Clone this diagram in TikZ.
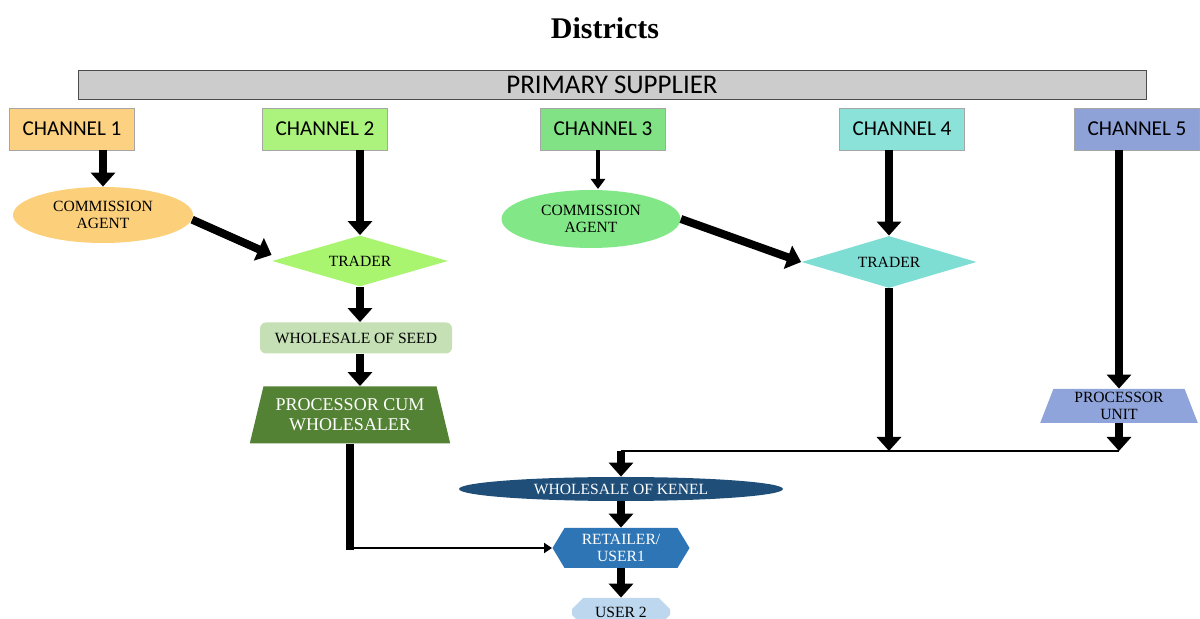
\documentclass[tikz,border=0pt]{standalone}
\usepackage{fontspec}
\setmainfont{Liberation Serif}
\newfontfamily\chfont{Carlito}
\usetikzlibrary{arrows.meta,shapes.geometric,shapes.misc,shapes.symbols}
\definecolor{barc}{RGB}{204,204,204}
\definecolor{ch1c}{RGB}{252,210,130}
\definecolor{ch2c}{RGB}{172,243,125}
\definecolor{ch3c}{RGB}{128,226,132}
\definecolor{ch4c}{RGB}{138,226,216}
\definecolor{ch5c}{RGB}{142,162,216}
\definecolor{ca1c}{RGB}{252,208,122}
\definecolor{ca3c}{RGB}{130,232,135}
\definecolor{tr2c}{RGB}{170,245,112}
\definecolor{tr4c}{RGB}{126,222,212}
\definecolor{wosc}{RGB}{197,224,180}
\definecolor{pcwc}{RGB}{84,130,53}
\definecolor{puc}{RGB}{143,164,218}
\definecolor{wokc}{RGB}{31,78,121}
\definecolor{retc}{RGB}{46,117,182}
\definecolor{usrc}{RGB}{189,215,238}
\begin{document}
\begin{tikzpicture}[x=0.5pt, y=-0.5pt,
	lbl/.style={font=\fontsize{7.8}{8.6}\selectfont, align=center, inner sep=0pt},
	chbox/.style={draw=gray!70, font=\chfont\fontsize{10.6}{13}\selectfont, minimum width=62.5pt, minimum height=21pt, inner sep=0pt},
	fatarrow/.style={line width=4pt, -{Triangle[width=12pt,length=7pt]}},
	midarrow/.style={line width=2pt, -{Triangle[width=7pt,length=5pt]}},
	thinarrow/.style={line width=1pt, -{Triangle[width=5pt,length=4pt]}}]
	\useasboundingbox (0,0) rectangle (1200,619);
	%title
	\node[font=\bfseries\fontsize{15}{18}\selectfont] (title) at (605,28) {Districts};
	\node[draw=black!70, fill=barc, minimum width=534pt, minimum height=14.5pt, inner sep=0pt,
		font=\chfont\fontsize{13.5}{15}\selectfont] (sup) at (612,85) {PRIMARY SUPPLIER};
	%channels
	\node[chbox, fill=ch1c] (ch1) at (72,129) {CHANNEL 1};
	\node[chbox, fill=ch2c] (ch2) at (325,129) {CHANNEL 2};
	\node[chbox, fill=ch3c] (ch3) at (603,129) {CHANNEL 3};
	\node[chbox, fill=ch4c] (ch4) at (902,129) {CHANNEL 4};
	\node[chbox, fill=ch5c] (ch5) at (1137,129) {CHANNEL 5};
	%middle
	\node[lbl, ellipse, fill=ca1c, minimum width=90pt, minimum height=28pt] (ca1) at (103,215) {COMMISSION\\AGENT};
	\node[lbl, ellipse, fill=ca3c, minimum width=89.5pt, minimum height=29pt] (ca3) at (591,219) {COMMISSION\\AGENT};
	\node[lbl, diamond, aspect=3.5, fill=tr2c, minimum width=88pt, minimum height=25.5pt] (tr2) at (360,261) {TRADER};
	\node[lbl, diamond, aspect=3.5, fill=tr4c, minimum width=87.5pt, minimum height=26pt] (tr4) at (889,262) {TRADER};
	\node[lbl, fill=wosc, rounded corners=3pt, minimum width=96pt, minimum height=15.5pt] (wos) at (356,338) {WHOLESALE OF SEED};
	\node[lbl, trapezium, trapezium left angle=70, trapezium right angle=70, trapezium stretches=true,
		fill=pcwc, text=white, font=\fontsize{9}{10}\selectfont, minimum width=100.5pt, minimum height=28.5pt] (pcw) at (350,415) {PROCESSOR CUM\\WHOLESALER};
	\node[lbl, trapezium, trapezium left angle=72, trapezium right angle=72, trapezium stretches=true,
		fill=puc, minimum width=79pt, minimum height=17pt] (pu) at (1119,406) {PROCESSOR\\UNIT};
	%bottom
	\node[lbl, ellipse, fill=wokc, text=white, minimum width=162pt, minimum height=12pt] (wok) at (621,489) {WHOLESALE OF KENEL};
	\node[lbl, signal, signal to=west and east, signal pointer angle=118, fill=retc, text=white,
		minimum width=68.5pt, minimum height=20pt] (ret) at (621,548) {RETAILER/\\USER1};
	\node[lbl, chamfered rectangle, chamfered rectangle xsep=3pt, chamfered rectangle ysep=3pt, fill=usrc,
		minimum width=49pt, minimum height=14pt] (usr2) at (621,612) {USER 2};
	%arrows
	\draw[fatarrow] (ch1.south -| ca1.north) -- (ca1.north);
	\draw[fatarrow] (ch2.south -| tr2.north) -- (tr2.north);
	\draw[midarrow] (ch3.south -| 598,0) -- (598,189);
	\draw[fatarrow] (ch4.south -| tr4.north) -- (tr4.north);
	\draw[fatarrow] (ch5.south -| pu.north) -- (pu.north);
	\draw[fatarrow] (ca1.-3) -- ([yshift=3pt]tr2.west);
	\draw[fatarrow] (ca3.east) -- (tr4.west);
	\draw[fatarrow] (tr2.south) -- (tr2.south |- wos.north);
	\draw[fatarrow] (tr2.south |- wos.south) -- (tr2.south |- pcw.north);
	\coordinate (jn) at (621,451);
	\coordinate (pcwbend) at (pcw.south |- ret.west);
	\draw[fatarrow] (tr4.south) -- (tr4.south |- jn);
	\draw[fatarrow] (pu.south) -- (pu.south |- jn);
	\draw[line width=1pt] (pu.south |- jn) -- (jn);
	\draw[fatarrow] (jn) -- (wok.north);
	\draw[fatarrow] (wok.south) -- (ret.north);
	\draw[fatarrow] (ret.south) -- (usr2.north);
	\draw[line width=4pt] (pcw.south) -- ([yshift=-1pt]pcwbend);
	\draw[thinarrow] (pcwbend) -- (ret.west);
\end{tikzpicture}
\end{document}
